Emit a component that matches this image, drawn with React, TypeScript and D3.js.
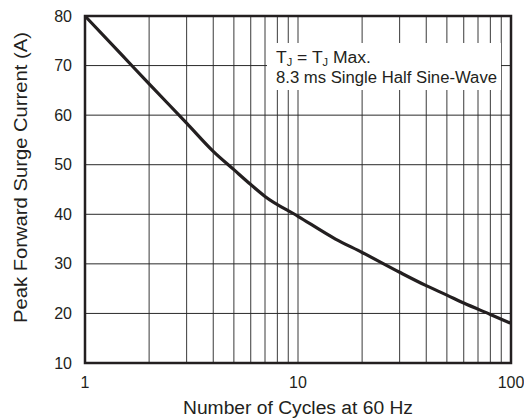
import React from "react";
import * as d3 from "d3";

const cycles = [1, 1.5, 2, 3, 4, 5, 6, 7, 10, 15, 20, 30, 40, 50, 60, 80, 100];
const current = [80, 72.0, 66.3, 58.4, 52.7, 49.0, 46.0, 43.6, 39.6, 35.0, 32.3, 28.3, 25.6, 23.7, 22.1, 19.8, 18.0];
const yTicks = [10, 20, 30, 40, 50, 60, 70, 80];
const xTickLabels = [1, 10, 100];
const xGrid = [2, 3, 4, 5, 6, 7, 8, 9, 10, 20, 30, 40, 50, 60, 70, 80, 90];
const noteLine2 = "8.3 ms Single Half Sine-Wave";

export default function App() {
  const W = 524, H = 419;
  const L = 85, R = 511, T = 16, B = 363;
  const x = d3.scaleLog().domain([1, 100]).range([L, R]);
  const y = d3.scaleLinear().domain([10, 80]).range([B, T]);
  const line = d3
    .line<number>()
    .x((_, i) => x(cycles[i]))
    .y((d) => y(d))
    .curve(d3.curveMonotoneX);
  const font = "'Liberation Sans', Arial, Helvetica, sans-serif";
  const ink = "#231f20";
  return (
    <svg
      width={W}
      height={H}
      style={{ position: "absolute", left: 0, top: 0, background: "#fff" }}
      fontFamily={font}
    >
      {xGrid.map((v) => (
        <line key={"xg" + v} x1={x(v)} x2={x(v)} y1={T} y2={B} stroke="#3a3a3a" strokeWidth={1} />
      ))}
      {yTicks.slice(1, -1).map((v) => (
        <line key={"yg" + v} x1={L} x2={R} y1={y(v)} y2={y(v)} stroke="#2a2a2a" strokeWidth={1} />
      ))}
      <rect x={267} y={43} width={234} height={47} fill="#fff" />
      <text x={276} y={63} fontSize={16} fill={ink} textLength={95} lengthAdjust="spacingAndGlyphs">
        T
        <tspan fontSize={10} dy={3}>J</tspan>
        <tspan dy={-3}> = T</tspan>
        <tspan fontSize={10} dy={3}>J</tspan>
        <tspan dy={-3}> Max.</tspan>
      </text>
      <text x={276} y={82.5} fontSize={16} fill={ink} textLength={221} lengthAdjust="spacingAndGlyphs">
        {noteLine2}
      </text>
      <path d={line(current) || ""} fill="none" stroke={ink} strokeWidth={3.2} strokeLinejoin="round" />
      <rect x={L} y={T} width={R - L} height={B - T} fill="none" stroke={ink} strokeWidth={2.5} />
      {yTicks.map((v) => (
        <text key={"yt" + v} x={72} y={y(v) + 5.5} textAnchor="end" fontSize={16} fill={ink}>
          {v}
        </text>
      ))}
      {xTickLabels.map((v) => (
        <text key={"xt" + v} x={x(v)} y={388} textAnchor="middle" fontSize={16} fill={ink}>
          {v}
        </text>
      ))}
      <text x={298} y={414} textAnchor="middle" fontSize={18} fill={ink} textLength={230} lengthAdjust="spacingAndGlyphs">
        Number of Cycles at 60 Hz
      </text>
      <text
        transform={`translate(27, 177.5) rotate(-90)`}
        textAnchor="middle"
        fontSize={18.5}
        fill={ink}
        textLength={291}
        lengthAdjust="spacingAndGlyphs"
      >
        Peak Forward Surge Current (A)
      </text>
    </svg>
  );
}
